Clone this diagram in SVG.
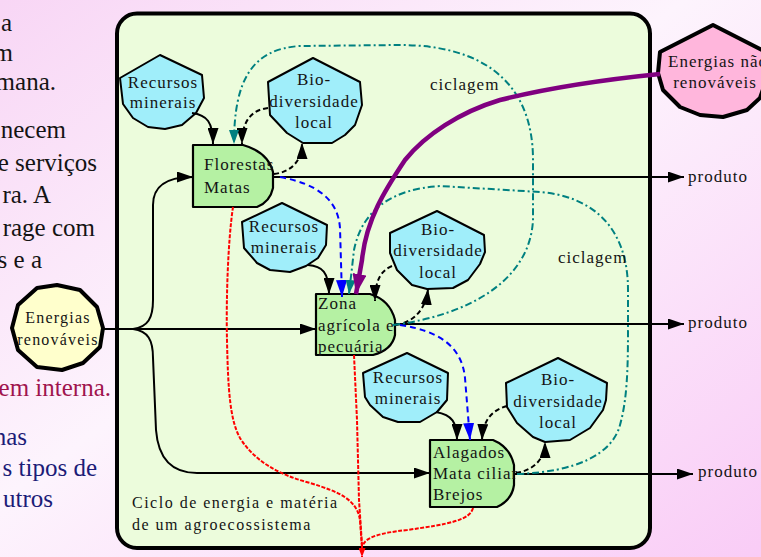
<svg xmlns="http://www.w3.org/2000/svg" width="761" height="557" viewBox="0 0 761 557">
  <style>
    .lbl { font-family: "Liberation Serif", "Times New Roman", serif; font-size: 17px; letter-spacing: 1px; fill: #141414; }
    .mid { text-anchor: middle; }
    .side { font-family: "Liberation Serif", "Times New Roman", serif; font-size: 25px; text-anchor: end; }
    .res { fill: #a0eefa; stroke: #000; stroke-width: 2; stroke-linejoin: round; }
    .zone { fill: #b5f1a3; stroke: #000; stroke-width: 2.2; stroke-linejoin: round; }
    .src { stroke: #000; stroke-width: 4; stroke-linejoin: round; }
    .flow { fill: none; stroke: #000; stroke-width: 2; }
    .dash { fill: none; stroke: #000; stroke-width: 2; stroke-dasharray: 5 3; }
    .blue { fill: none; stroke: #0000ff; stroke-width: 2; stroke-dasharray: 6 4; }
    .teal { fill: none; stroke: #008080; stroke-width: 2; stroke-dasharray: 7 3 2 3; }
    .red { fill: none; stroke: #ff0000; stroke-width: 2; stroke-dasharray: 4 1.5; }
    .fuel { fill: none; stroke: #800080; stroke-width: 4.5; stroke-linejoin: round; }
  </style>
  <defs>
    <linearGradient id="bg" x1="0" y1="0" x2="1" y2="1">
      <stop offset="0" stop-color="#f8d6f5"/>
      <stop offset="0.45" stop-color="#fdf4fd"/>
      <stop offset="1" stop-color="#f9ccf6"/>
    </linearGradient>
    <marker id="aBlack" markerUnits="userSpaceOnUse" markerWidth="16" markerHeight="11" refX="16" refY="5.5" orient="auto">
      <path d="M0,0 L16,5.5 L0,11 z" fill="#000"/>
    </marker>
    <marker id="aBlue" markerUnits="userSpaceOnUse" markerWidth="17" markerHeight="11" refX="17" refY="5.5" orient="auto">
      <path d="M0,0 L17,5.5 L0,11 z" fill="#0000ff"/>
    </marker>
    <marker id="aTeal" markerUnits="userSpaceOnUse" markerWidth="14" markerHeight="10" refX="14" refY="5" orient="auto">
      <path d="M0,0 L14,5 L0,10 z" fill="#008080"/>
    </marker>
    <marker id="aPurple" markerUnits="userSpaceOnUse" markerWidth="20" markerHeight="14" refX="20" refY="7" orient="auto">
      <path d="M0,0 L20,7 L0,14 z" fill="#800080"/>
    </marker>
    <marker id="aRed" markerUnits="userSpaceOnUse" markerWidth="9" markerHeight="7" refX="9" refY="3.5" orient="auto">
      <path d="M0,0 L9,3.5 L0,7 z" fill="#ff0000"/>
    </marker>
  </defs>

  <!-- page background -->
  <rect x="0" y="0" width="761" height="557" fill="url(#bg)"/>

  <!-- running text at the left edge of the page -->
  <g id="side-text">
    <text class="side" fill="#141414" x="12" y="31">a</text>
    <text class="side" fill="#141414" x="13" y="61">m</text>
    <text class="side" fill="#141414" x="56" y="90">mana.</text>
    <text class="side" fill="#141414" x="66" y="138">necem</text>
    <text class="side" fill="#141414" x="97" y="171">e serviços</text>
    <text class="side" fill="#141414" x="51" y="203">ra. A</text>
    <text class="side" fill="#141414" x="95" y="236">rage com</text>
    <text class="side" fill="#141414" x="42" y="268">s e a</text>
    <text class="side" fill="#a0144e" x="111" y="396">em interna.</text>
    <text class="side" fill="#1c1c78" x="27" y="445">nas</text>
    <text class="side" fill="#1c1c78" x="97" y="476">s tipos de</text>
    <text class="side" fill="#1c1c78" x="53" y="507">utros</text>
  </g>

  <!-- agroecosystem frame -->
  <g id="frame">
    <rect x="117" y="13.5" width="533" height="534.5" rx="20" ry="20" fill="#ecfcdc" stroke="#000" stroke-width="4"/>
    <text class="lbl" x="132" y="508" style="font-size:16px;letter-spacing:1.5px">Ciclo de energia e matéria</text>
    <text class="lbl" x="132" y="530" style="font-size:16px;letter-spacing:1.5px">de um agroecossistema</text>
  </g>

  <!-- outside sources -->
  <g id="energias-renovaveis">
    <polygon class="src" fill="#ffffcc" points="57,285 80,290 97,307 103,328 100,347 83,363 62,370 37,367 18,350 12,328 18,305 37,288"/>
    <text class="lbl mid" x="58" y="323" style="font-size:16px;letter-spacing:1.2px">Energias</text>
    <text class="lbl mid" x="58" y="345" style="font-size:16px;letter-spacing:1.2px">renováveis</text>
  </g>
  <g id="energias-nao-renovaveis">
    <polygon class="src" fill="#ffb6dc" points="713,25 766,52 768,75 760,98 747,110 723,117 700,115 680,107 663,90 658,73 660,52"/>
    <text class="lbl mid" x="718" y="67">Energias não</text>
    <text class="lbl mid" x="715" y="88">renováveis</text>
  </g>

  <!-- upper zone: forests -->
  <g id="recursos-1">
    <polygon class="res" points="160,55 202,75 204,98 196,113 182,125 165,129 148,127 133,118 123,104 120,78"/>
    <text class="lbl mid" x="163" y="88">Recursos</text>
    <text class="lbl mid" x="163" y="108">minerais</text>
  </g>
  <g id="bio-1">
    <polygon class="res" points="313,58 360,82 362,105 355,125 345,135 332,143 303,143 287,133 270,115 268,82"/>
    <text class="lbl mid" x="314" y="85">Bio-</text>
    <text class="lbl mid" x="314" y="107">diversidade</text>
    <text class="lbl mid" x="314" y="128">local</text>
  </g>
  <g id="florestas">
    <path class="zone" d="M193,145 H243 Q268,152 273,172 V188 Q270,202 257,207 H193 Z"/>
    <text class="lbl" x="204" y="170">Florestas</text>
    <text class="lbl" x="204" y="193">Matas</text>
  </g>

  <!-- middle zone: farmland -->
  <g id="recursos-2">
    <polygon class="res" points="282,203 327,225 326,245 318,258 306,266 290,272 270,270 257,263 244,248 242,222"/>
    <text class="lbl mid" x="284" y="232">Recursos</text>
    <text class="lbl mid" x="284" y="253">minerais</text>
  </g>
  <g id="bio-2">
    <polygon class="res" points="437,211 484,235 485,252 480,264 468,280 453,288 427,289 412,285 397,270 390,253 390,233"/>
    <text class="lbl mid" x="438" y="235">Bio-</text>
    <text class="lbl mid" x="438" y="256">diversidade</text>
    <text class="lbl mid" x="438" y="278">local</text>
  </g>
  <g id="zona-agricola">
    <path class="zone" d="M316,294 H370 Q390,300 395,320 V335 Q392,350 373,355 H316 Z"/>
    <text class="lbl" x="318" y="309">Zona</text>
    <text class="lbl" x="318" y="331">agrícola e</text>
    <text class="lbl" x="318" y="352">pecuária</text>
  </g>

  <!-- lower zone: wetlands -->
  <g id="recursos-3">
    <polygon class="res" points="407,353 448,373 447,400 437,412 420,422 398,422 383,417 370,405 365,397 363,373"/>
    <text class="lbl mid" x="408" y="383">Recursos</text>
    <text class="lbl mid" x="408" y="404">minerais</text>
  </g>
  <g id="bio-3">
    <polygon class="res" points="558,358 607,383 606,400 603,410 590,428 570,440 545,442 533,437 517,423 507,407 506,383"/>
    <text class="lbl mid" x="558" y="385">Bio-</text>
    <text class="lbl mid" x="558" y="407">diversidade</text>
    <text class="lbl mid" x="558" y="428">local</text>
  </g>
  <g id="alagados">
    <path class="zone" d="M430,440 H493 Q510,447 514,465 V485 Q512,500 497,507 H430 Z"/>
    <text class="lbl" x="433" y="458">Alagados</text>
    <text class="lbl" x="433" y="479">Mata ciliar</text>
    <text class="lbl" x="433" y="500">Brejos</text>
  </g>

  <!-- flows between the parts -->
  <g id="connectors">
    <!-- renewable energy into the three zones -->
    <path class="flow" d="M103,329 H316" marker-end="url(#aBlack)"/>
    <path class="flow" d="M133,329 C148,327 153,318 153,300 V205 C153,188 163,177 193,177" marker-end="url(#aBlack)"/>
    <path class="flow" d="M133,329 C148,331 153,340 153,358 L156,430 C158,456 170,473 197,473 H430" marker-end="url(#aBlack)"/>
    <!-- products leaving the system -->
    <path class="flow" d="M273,177 H684" marker-end="url(#aBlack)"/>
    <path class="flow" d="M395,324 H684" marker-end="url(#aBlack)"/>
    <path class="flow" d="M515,474 H693" marker-end="url(#aBlack)"/>
    <!-- mineral resources -->
    <path class="flow" d="M192,113 C207,115 213,122 213,144" marker-end="url(#aBlack)"/>
    <path class="flow" d="M308,265 C322,266 329,272 329,294" marker-end="url(#aBlack)"/>
    <path class="flow" d="M436,412 C452,415 457,422 457,440" marker-end="url(#aBlack)"/>
    <!-- biodiversity exchanges -->
    <path class="dash" d="M268,108 C252,110 242,120 242,144" marker-end="url(#aBlack)"/>
    <path class="dash" d="M274,174 C292,172 302,160 302,143" marker-end="url(#aBlack)"/>
    <path class="dash" d="M392,266 C380,271 375,282 375,301" marker-end="url(#aBlack)"/>
    <path class="dash" d="M396,325 C415,322 426,308 428,289" marker-end="url(#aBlack)"/>
    <path class="dash" d="M507,406 C492,410 483,420 482,440" marker-end="url(#aBlack)"/>
    <path class="dash" d="M516,473 C535,470 545,458 545,442" marker-end="url(#aBlack)"/>
    <!-- water / matter downhill -->
    <path class="blue" d="M280,177 C318,184 338,200 340,228 L342,297" marker-end="url(#aBlue)"/>
    <path class="blue" d="M400,325 C440,331 462,347 465,378 L470,440" marker-end="url(#aBlue)"/>
    <!-- recycling loops -->
    <path class="teal" d="M393,325 C470,315 530,280 533,220 L533,160 C533,80 480,45 400,45 L300,46 C252,49 234,80 234,144" marker-end="url(#aTeal)"/>
    <path class="teal" d="M517,474 C575,472 612,455 620,425 C627,400 628,370 628,330 L628,290 C628,225 590,196 540,192 L440,186 C392,189 362,210 354,250 L349,294" marker-end="url(#aTeal)"/>
    <!-- non-renewable inputs -->
    <path class="fuel" d="M660,74 C600,80 540,90 500,100 C460,112 425,135 405,160 C385,190 366,220 362,260 L356,294" marker-end="url(#aPurple)"/>
    <!-- losses -->
    <path class="red" d="M233,207 C228,240 226,300 227,340 C228,390 230,420 240,438 C255,462 280,475 310,483 C340,492 357,500 360,520 L362,548"/>
    <path class="red" d="M354,355 L357,420 L359,500 L362,545"/>
    <path class="red" d="M473,508 C470,520 450,524 407,530 C380,533 366,537 363,545"/>
    <path class="red" d="M362,545 L362,557" marker-end="url(#aRed)"/>
  </g>

  <!-- free labels -->
  <g id="labels">
    <text class="lbl" x="430" y="90">ciclagem</text>
    <text class="lbl" x="558" y="263">ciclagem</text>
    <text class="lbl" x="688" y="182">produto</text>
    <text class="lbl" x="688" y="328">produto</text>
    <text class="lbl" x="698" y="477">produto</text>
  </g>
</svg>
